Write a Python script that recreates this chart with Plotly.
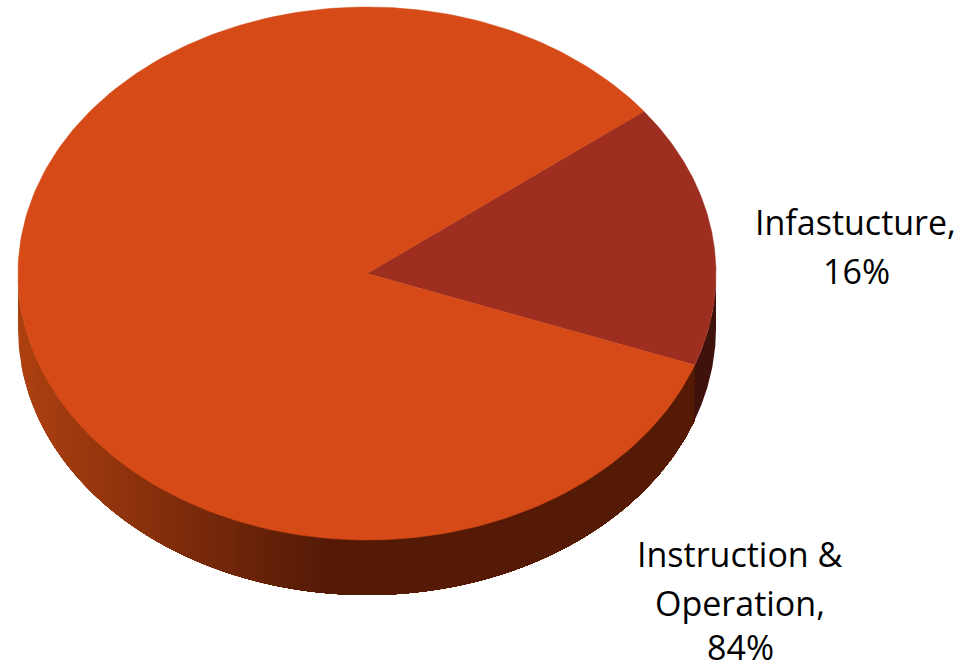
import numpy as np
import plotly.graph_objects as go

categories = ["Infastucture", "Instruction & Operation"]
shares = [16, 84]
top_colors = ["#9E2E1F", "#D54A17"]
side_dark = ["#3F130B", "#541A06"]
side_light = "#AD4010"
start_angle = 37.5          # degrees, counter-clockwise from +x, ellipse parameter
label_lines = [["Infastucture,", "16%"], ["Instruction &", "Operation,", "84%"]]
label_pos = [[(855, 222), (856, 271)], [(740, 554), (740, 603), (740, 647)]]
FONT = "Open Sans"
FONT_SIZE = 34

W, H = 977, 670
CX, CY, RX, RY, DEPTH = 367, 273.5, 349, 266.5, 55
GRADIENT_END = 0.88         # share of the rim's width over which the shade darkens (in radius units)


def lerp_hex(a, b, t):
    ca = [int(a[i:i + 2], 16) for i in (1, 3, 5)]
    cb = [int(b[i:i + 2], 16) for i in (1, 3, 5)]
    return "#" + "".join(f"{round(p + (q - p) * t):02X}" for p, q in zip(ca, cb))


def ex(t):
    return np.cos(np.radians(t))


def ey(t):
    return np.sin(np.radians(t))


def rim(a0, a1, color):
    t = np.linspace(a0, a1, 160)
    x = np.concatenate([ex(t), ex(t[::-1])])
    y = np.concatenate([ey(t), ey(t[::-1]) - DEPTH / RY])
    fig.add_trace(go.Scatter(x=x, y=y, fill="toself", fillcolor=color, mode="lines",
                             line=dict(color=color, width=0), hoverinfo="skip", showlegend=False))


fig = go.Figure()
angles = [start_angle]
for s in shares:
    angles.append(angles[-1] - s * 3.6)

# Rim of the large slice: painted left to right, each step running on to the slice's end
end_large = angles[1] % 360          # where the large slice meets the small one on the front arc
strip_x = np.linspace(-1, -1 + GRADIENT_END, 90)
for k, xv in enumerate(strip_x):
    a = 360 - np.degrees(np.arccos(xv))
    rim(a, end_large, lerp_hex(side_light, side_dark[1], k / (len(strip_x) - 1)))

# Rim of the small slice
rim(end_large, 360, side_dark[0])

# Top faces
for i in range(2):
    t = np.linspace(angles[i], angles[i + 1], 240)
    x = np.concatenate([[0], ex(t), [0]])
    y = np.concatenate([[0], ey(t), [0]])
    fig.add_trace(go.Scatter(x=x, y=y, fill="toself", fillcolor=top_colors[i], mode="lines",
                             line=dict(color=top_colors[i], width=0.5), hoverinfo="skip",
                             name=categories[i], showlegend=False))

for lines, pos in zip(label_lines, label_pos):
    for text, (px, py) in zip(lines, pos):
        fig.add_annotation(x=px / W, y=1 - py / H, xref="paper", yref="paper", text=text,
                           showarrow=False, xanchor="center", yanchor="middle",
                           font=dict(family=FONT, size=FONT_SIZE, color="#000000"))

fig.update_layout(
    width=W, height=H, margin=dict(l=0, r=0, t=0, b=0),
    paper_bgcolor="#FFFFFF", plot_bgcolor="#FFFFFF", showlegend=False,
    xaxis=dict(range=[-CX / RX, (W - CX) / RX], visible=False, fixedrange=True),
    yaxis=dict(range=[-(H - CY) / RY, CY / RY], visible=False, fixedrange=True),
)
fig.write_html("out.html", config={"displayModeBar": False},
               post_script="document.body.style.margin='0';document.documentElement.style.overflow='hidden';")
